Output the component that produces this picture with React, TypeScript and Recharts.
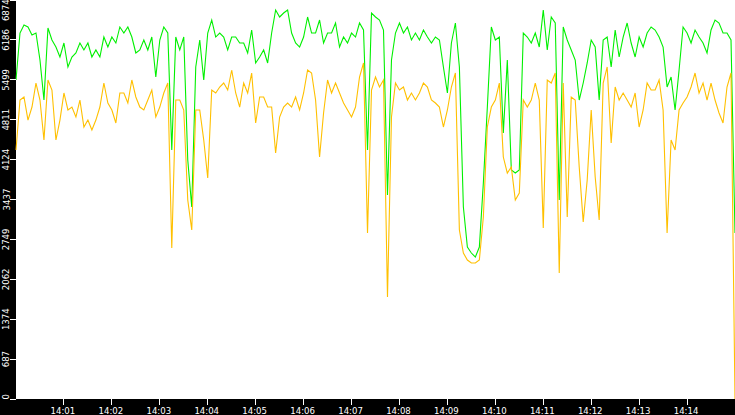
import { LineChart, Line, XAxis, YAxis, CartesianGrid } from 'recharts';

// one sample every 5 seconds from 14:00:00 to 14:15:00
const STEP_SECONDS = 5;

const maxValues = [
  5496, 6305, 6443, 6409, 6271, 6305, 5840, 5151, 6392, 6185,
  6064, 5892, 6133, 5720, 5892, 5961, 6133, 6013, 6133, 5892,
  6013, 5892, 6236, 6064, 6236, 6133, 6409, 6305, 6409, 6236,
  5961, 6013, 6185, 6013, 6236, 5547, 6185, 6409, 6305, 4290,
  6236, 6013, 6236, 4117, 3307, 5720, 6185, 5496, 6305, 6529,
  6236, 6305, 6236, 6013, 6236, 6236, 6133, 6133, 5961, 6357,
  5789, 5892, 6013, 5789, 6305, 6702, 6581, 6650, 6702, 6305,
  6133, 6064, 6236, 6581, 6305, 6305, 6529, 6133, 6305, 6305,
  6478, 6064, 6236, 6133, 6305, 6236, 6478, 6357, 4290, 6650,
  6581, 6529, 6357, 3514, 5840, 6305, 6478, 6305, 6409, 6185,
  6305, 6185, 6357, 6236, 6133, 6236, 6185, 5720, 5272, 6133,
  6478, 5720, 3307, 2618, 2515, 2446, 2618, 3721, 5030, 6409,
  6185, 6236, 4582, 5840, 3945, 3893, 3945, 6305, 6236, 6133,
  6305, 6064, 6702, 6013, 6581, 6478, 3428, 6409, 6185, 6013,
  5840, 5151, 5444, 5789, 6185, 6064, 5151, 6185, 6236, 5720,
  6357, 5892, 6236, 6478, 6133, 5892, 6236, 6064, 6305, 6409,
  6357, 6236, 6064, 5375, 5547, 4979, 5668, 6409, 6305, 6133,
  6357, 6236, 6133, 5961, 6357, 6529, 6478, 6305, 6305, 6185,
  2859,
];

const avgValues = [
  4290, 5151, 5203, 4806, 5030, 5444, 5151, 4462, 5496, 5323,
  4462, 4806, 5272, 4979, 5030, 4858, 5151, 4686, 4806, 4634,
  4806, 5030, 5444, 5099, 4979, 4755, 5272, 5272, 5099, 5496,
  5203, 5030, 4979, 5151, 5323, 4858, 5030, 5272, 5444, 2601,
  5151, 5151, 4979, 3428, 2911, 4979, 4979, 4462, 3807, 5323,
  5272, 5375, 5444, 5323, 5668, 5272, 5030, 5444, 5272, 5616,
  4755, 5203, 5203, 5030, 5030, 4238, 4858, 5030, 5099, 5030,
  5203, 4979, 5272, 5668, 5616, 5151, 4169, 4927, 5496, 5272,
  5444, 5272, 5099, 4979, 4858, 5030, 5547, 5789, 2859, 5323,
  5547, 5375, 5496, 1757, 4858, 5444, 5323, 5375, 5151, 5272,
  5151, 5272, 5444, 5375, 5151, 5099, 5030, 4686, 4979, 5375,
  5616, 2911, 2515, 2394, 2342, 2342, 2394, 3135, 4686, 5030,
  5151, 5444, 4169, 3893, 3997, 3428, 3549, 5151, 5030, 5151,
  5444, 5151, 2946, 5496, 5444, 5616, 2170, 5444, 3135, 5203,
  5151, 3997, 3049, 3773, 4979, 3825, 3083, 5444, 5720, 4410,
  5375, 5151, 5272, 5151, 5030, 5272, 4686, 4979, 5444, 5323,
  5323, 5496, 4979, 2859, 4462, 4290, 4979, 5099, 5203, 5375,
  5616, 5272, 5444, 5151, 5444, 5151, 4927, 4755, 5375, 5616,
  0,
];

const yTicks = [0, 687, 1374, 2062, 2749, 3437, 4124, 4811, 5499, 6186, 6874];
const xTicks = [60, 120, 180, 240, 300, 360, 420, 480, 540, 600, 660, 720, 780, 840];
const xTickLabels = [
  '14:01', '14:02', '14:03', '14:04', '14:05', '14:06', '14:07',
  '14:08', '14:09', '14:10', '14:11', '14:12', '14:13', '14:14',
];

const data = maxValues.map((v, i) => ({
  t: i * STEP_SECONDS,
  max: v,
  avg: avgValues[i],
}));

const W = 735;
const H = 415;
const LEFT = 16;
const BOTTOM = 16;
const PLOT_BOTTOM = H - BOTTOM;
const FONT = "'DejaVu Sans Condensed', 'Liberation Sans', sans-serif";

function YTick(props: any) {
  const { y, payload } = props;
  const label = String(payload.value);
  const half = label.length * 2.3;
  const cy = Math.min(Math.max(y, half + 1), PLOT_BOTTOM - half);
  return (
    <g>
      <line x1={10} x2={LEFT} y1={y} y2={y} stroke="#fff" shapeRendering="crispEdges" />
      <text
        x={9.5}
        y={cy}
        transform={`rotate(-90 9.5 ${cy})`}
        textAnchor="middle"
        fill="#fff"
        fontSize={9.5}
        fontFamily={FONT}
      >
        {label}
      </text>
    </g>
  );
}

function XTick(props: any) {
  const { x, payload } = props;
  const label = xTickLabels[xTicks.indexOf(payload.value)] ?? '';
  return (
    <g>
      <line x1={x} x2={x} y1={PLOT_BOTTOM} y2={PLOT_BOTTOM + 6} stroke="#fff" shapeRendering="crispEdges" />
      <text x={x - 1} y={414} textAnchor="middle" fill="#fff" fontSize={9.5} fontFamily={FONT}>
        {label}
      </text>
    </g>
  );
}

export default function App() {
  return (
    <div style={{ position: 'absolute', left: 0, top: 0, width: W, height: H, background: '#000' }}>
      <LineChart width={W} height={H} data={data} margin={{ top: 0, right: 0, bottom: 0, left: 0 }}>
        <CartesianGrid horizontal={false} vertical={false} fill="#fff" fillOpacity={1} stroke="none" />
        <XAxis
          dataKey="t"
          type="number"
          domain={[0, 900]}
          ticks={xTicks}
          interval={0}
          height={BOTTOM}
          axisLine={false}
          tickLine={false}
          tick={<XTick />}
        />
        <YAxis
          type="number"
          domain={[0, 6874]}
          ticks={yTicks}
          interval={0}
          width={LEFT}
          axisLine={false}
          tickLine={false}
          tick={<YTick />}
        />
        <Line
          type="linear"
          dataKey="max"
          stroke="#00f000"
          strokeWidth={1.1}
          dot={false}
          isAnimationActive={false}
        />
        <Line
          type="linear"
          dataKey="avg"
          stroke="#ffc000"
          strokeWidth={1.1}
          dot={false}
          isAnimationActive={false}
        />
      </LineChart>
    </div>
  );
}
